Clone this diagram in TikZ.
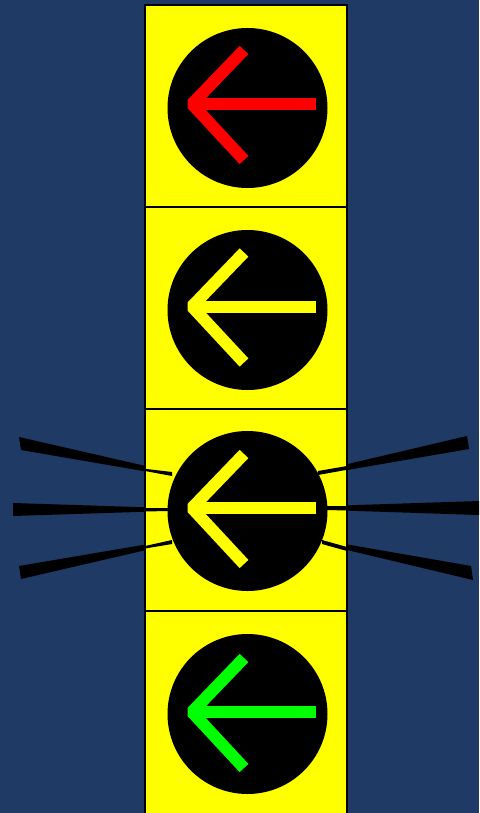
\documentclass[tikz,border=0pt]{standalone}
\definecolor{navy}{RGB}{31,58,100}
\definecolor{sigyellow}{RGB}{255,255,0}
\definecolor{arrred}{RGB}{255,0,0}
\definecolor{arryellow}{RGB}{255,255,0}
\definecolor{arrgreen}{RGB}{0,255,0}
\tikzset{
  panel/.style={fill=sigyellow, draw=black, line width=1.5pt},
  lamp/.style={fill=black},
  arrowstroke/.style={line width=12pt, line cap=butt, line join=bevel},
  ray/.style={fill=black}
}
\newcommand{\leftarrowsig}[2]{%
  \draw[arrowstroke, draw=#2] (244,#1-54) -- (192,#1) -- (244,#1+56);
  \draw[arrowstroke, draw=#2] (193,#1) -- (316,#1);
}
\begin{document}
\begin{tikzpicture}[x=1pt,y=-1pt]
\useasboundingbox (0,0) rectangle (479,813);
\fill[navy] (0,0) rectangle (479,813);
% rays (behind panel)
\fill[ray] (19,437) -- (21,450) -- (172,476) -- (172,472) -- cycle;
\fill[ray] (13,503) -- (13,516) -- (168,511) -- (168,508) -- cycle;
\fill[ray] (19,566) -- (21,579) -- (172,544) -- (172,540) -- cycle;
\fill[ray] (467,436) -- (469,449) -- (318,475) -- (318,471) -- cycle;
\fill[ray] (479,501) -- (479,515) -- (327,510) -- (327,506) -- cycle;
\fill[ray] (471,566) -- (473,580) -- (322,544) -- (322,540) -- cycle;
% panels
\draw[panel] (145,5) rectangle (347,207);
\draw[panel] (145,207) rectangle (347,409);
\draw[panel] (145,409) rectangle (347,611);
\draw[panel] (145,611) rectangle (347,815);
% rays crossing panel 3 yellow area
\fill[ray] (145,468.8) -- (145,471) -- (172,476) -- (172,472) -- cycle;
\fill[ray] (145,508) -- (145,511.5) -- (168,511) -- (168,508) -- cycle;
\fill[ray] (145,546) -- (145,548.5) -- (172,544) -- (172,540) -- cycle;
\fill[ray] (347,466) -- (347,469.8) -- (318,475) -- (318,471) -- cycle;
\fill[ray] (347,506) -- (347,510.5) -- (327,510) -- (327,506) -- cycle;
\fill[ray] (347,547) -- (347,551) -- (322,544) -- (322,540) -- cycle;
% lamps
\fill[lamp] (247.5,108) circle (80);
\fill[lamp] (247.5,310) circle (80);
\fill[lamp] (247.5,511) circle (80);
\fill[lamp] (247.5,714) circle (80);
% arrows
\leftarrowsig{104}{arrred}
\leftarrowsig{306.5}{arryellow}
\leftarrowsig{508}{arryellow}
\leftarrowsig{712}{arrgreen}
\end{tikzpicture}
\end{document}
